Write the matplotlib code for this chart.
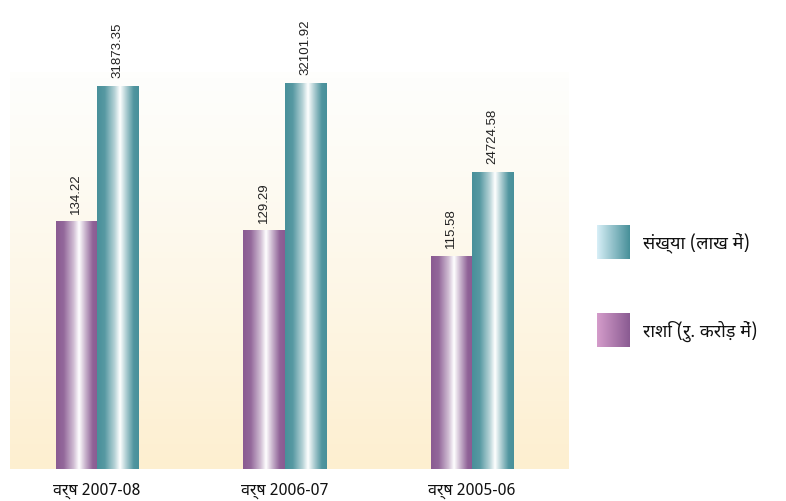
"""Grouped bars with cylinder shading: amount (Rs. crore) and count (lakh) by year."""

import matplotlib

matplotlib.use("Agg")
import matplotlib.pyplot as plt  # noqa: E402
import numpy as np  # noqa: E402
from matplotlib.colors import to_rgb  # noqa: E402

years = ["वर्ष 2007-08", "वर्ष 2006-07", "वर्ष 2005-06"]
amount = [134.22, 129.29, 115.58]          # राशि (रु. करोड़ में)
count = [31873.35, 32101.92, 24724.58]     # संख्या (लाख में)
amount_labels = ["134.22", "129.29", "115.58"]
count_labels = ["31873.35", "32101.92", "24724.58"]

PURPLE, TEAL = "#8a5b92", "#48909a"
HINDI = ["Noto Sans Devanagari", "Lohit Devanagari", "Mukta", "FreeSans",
         "Noto Sans", "DejaVu Sans"]
NUM = ["Liberation Sans", "DejaVu Sans"]


def _cylinder(color, n=64):
    # horizontal shading: dark edge -> white highlight -> dark edge
    t = np.linspace(0, 1, n)
    k = np.interp(t, [0, 0.18, 0.42, 0.55, 0.7, 0.88, 1], [0, 0.08, 0.6, 1.0, 0.55, 0.05, 0])
    c = np.array(to_rgb(color))
    rgb = c[None, :] * (1 - k[:, None]) + k[:, None]
    return rgb[None, :, :]


def _shade(ax, bars, color):
    for b in bars:
        x0, y0 = b.get_x(), b.get_y()
        im = ax.imshow(_cylinder(color), extent=(x0, x0 + b.get_width(), y0, y0 + b.get_height()),
                       aspect="auto", interpolation="bilinear", zorder=2)
        im.set_clip_path(b)


fig = plt.figure(figsize=(7.86, 5.02), dpi=100)
ax = fig.add_axes([10 / 786, 32 / 502, 559 / 786, 397 / 502])
ax2 = ax.twinx()

# cream background gradient, near-white at the top
top = np.array(to_rgb("#fefefc"))
bot = np.array(to_rgb("#fdefd0"))
f = (np.linspace(0, 1, 64) ** 1.2)[:, None, None]
bg = top * (1 - f) + bot * f
ax.imshow(bg, extent=(0, 1, 0, 1), transform=ax.transAxes, aspect="auto", zorder=0)

x = np.arange(len(years))
w = 0.22
b1 = ax.bar(x - w / 2, amount, w, color=PURPLE, zorder=1)
b2 = ax2.bar(x + w / 2, count, w, color=TEAL, zorder=1)
_shade(ax, b1, PURPLE)
_shade(ax2, b2, TEAL)

for xi, v, s in zip(x - w / 2, amount, amount_labels):
    ax.annotate(s, (xi, v), xytext=(0, 6), textcoords="offset points", rotation=90,
                ha="center", va="bottom", fontsize=9.5, family=NUM, color="#222222")
for xi, v, s in zip(x + w / 2, count, count_labels):
    ax2.annotate(s, (xi, v), xytext=(0, 6), textcoords="offset points", rotation=90,
                 ha="center", va="bottom", fontsize=9.5, family=NUM, color="#222222")

ax.set_xlim(-0.464, 2.517)
ax.set_ylim(0, 215)
ax2.set_ylim(0, 33000)
for a in (ax, ax2):
    a.set_yticks([])
    for sp in a.spines.values():
        sp.set_visible(False)
ax.set_xticks(x)
ax.set_xticklabels(years, fontsize=11.5, family=HINDI + NUM, color="#111111")
ax.tick_params(axis="x", length=0, pad=9)

# legend with gradient swatches
for y0, c0, c1, label in [(242, "#d6eef6", TEAL, "संख्या (लाख में)"),
                          (154, "#d49cca", PURPLE, "राशि (रु. करोड़ में)")]:
    lax = fig.add_axes([597 / 786, y0 / 502, 33 / 786, 34 / 502])
    g = np.linspace(0, 1, 32)[None, :, None]
    lax.imshow(np.array(to_rgb(c0)) * (1 - g) + np.array(to_rgb(c1)) * g, aspect="auto")
    lax.axis("off")
    fig.text(643 / 786, (y0 + 17) / 502, label, fontsize=13, fontweight="bold",
             family=HINDI, va="center", ha="left", color="#111111")

fig.savefig("out.png", dpi=100)
